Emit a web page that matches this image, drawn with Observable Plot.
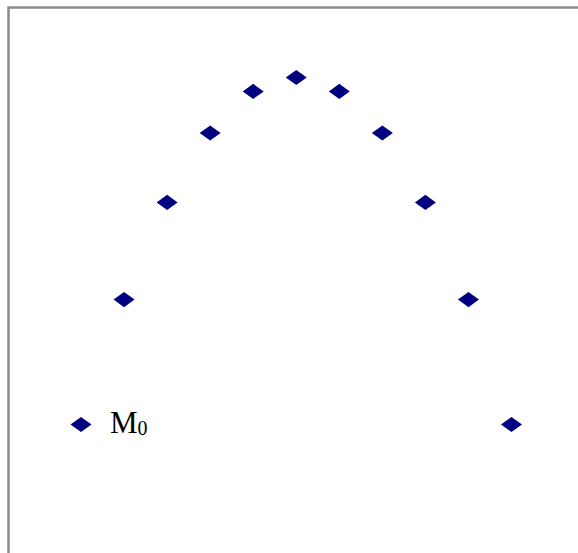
<!DOCTYPE html>
<html>
<head>
<meta charset="utf-8">
<script src="https://cdn.jsdelivr.net/npm/d3@7"></script>
<script src="https://cdn.jsdelivr.net/npm/@observablehq/plot@0.6"></script>
<style>
  html, body { margin: 0; padding: 0; background: #fff; }
  #chart svg { display: block; }
</style>
</head>
<body>
<div id="chart"></div>
<script>
const xValues = [0, 1, 2, 3, 4, 5, 6, 7, 8, 9, 10];
const yValues = [0, 9, 16, 21, 24, 25, 24, 21, 16, 9, 0];
const seriesName = "M";
const seriesSub = "0";

const data = xValues.map((x, i) => ({x, y: yValues[i]}));

// wide diamond symbol (wider than tall)
const wideDiamond = {
  draw(ctx, size) {
    const r = Math.sqrt(size / Math.PI);
    const w = r, h = r * 0.72;
    ctx.moveTo(-w, 0);
    ctx.lineTo(0, -h);
    ctx.lineTo(w, 0);
    ctx.lineTo(0, h);
    ctx.closePath();
  }
};

const chart = Plot.plot({
  width: 578,
  height: 553,
  marginLeft: 8,
  marginTop: 7,
  marginRight: 0,
  marginBottom: 0,
  x: {domain: [0, 10], range: [80.5, 511], axis: null},
  y: {domain: [0, 25], range: [424, 77], axis: null},
  style: {background: "#fff"},
  marks: [
    Plot.frame({stroke: "#8a8a8a", strokeWidth: 2.5, insetRight: -6, insetBottom: -6}),
    Plot.dot(data, {x: "x", y: "y", symbol: wideDiamond, r: 10.5, fill: "#000080", stroke: "none"}),
    Plot.text([data[0]], {x: "x", y: "y", text: () => seriesName, textAnchor: "start", lineAnchor: "bottom",
      dx: 29, dy: 8, fontFamily: "Liberation Serif", fontSize: 31, fill: "#000"}),
    Plot.text([data[0]], {x: "x", y: "y", text: () => seriesSub, textAnchor: "start", lineAnchor: "bottom",
      dx: 56.5, dy: 10.5, fontFamily: "Liberation Serif", fontSize: 20, fill: "#000"})
  ]
});
document.getElementById("chart").appendChild(chart);
</script>
</body>
</html>
